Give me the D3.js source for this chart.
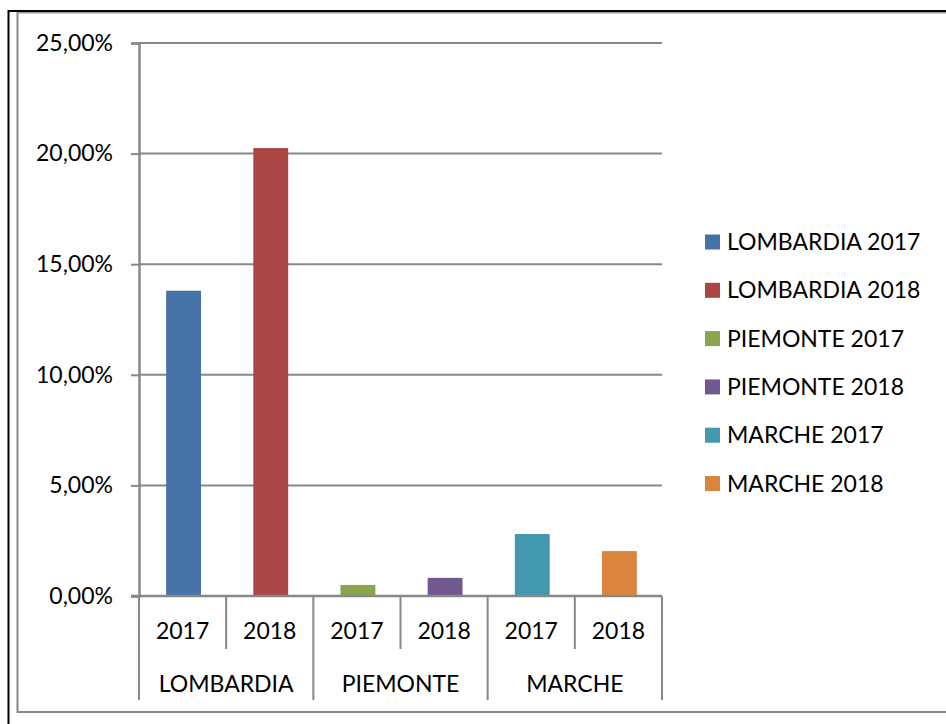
<!DOCTYPE html>
<html><head><meta charset="utf-8">
<script src="https://cdn.jsdelivr.net/npm/d3@7"></script>
<style>html,body{margin:0;padding:0;background:#fff;}svg{display:block;}text{font-family:Lato,"Open Sans",sans-serif;fill:#000;}</style>
</head><body>
<script>
const regions = ["LOMBARDIA", "PIEMONTE", "MARCHE"];
const years = ["2017", "2018"];
const seriesNames = ["LOMBARDIA 2017","LOMBARDIA 2018","PIEMONTE 2017","PIEMONTE 2018","MARCHE 2017","MARCHE 2018"];
const values = [13.8, 20.25, 0.5, 0.82, 2.8, 2.03];
const colors = ["#4572A7","#AA4643","#89A54E","#71588F","#4198AF","#DB843D"];
const yTicks = [0, 5, 10, 15, 20, 25];

(function () {
const W = 946, H = 724;
const FS = "23px";
const svg = d3.select("body").append("svg").attr("width", W).attr("height", H);

// frame
svg.append("line").attr("x1",8.5).attr("x2",8.5).attr("y1",10).attr("y2",H).attr("stroke","#000").attr("stroke-width",2);
svg.append("line").attr("x1",8).attr("x2",W).attr("y1",11).attr("y2",11).attr("stroke","#000").attr("stroke-width",2);
svg.append("line").attr("x1",17.5).attr("x2",17.5).attr("y1",12).attr("y2",713).attr("stroke","#888").attr("stroke-width",2);
svg.append("line").attr("x1",17).attr("x2",W).attr("y1",12.8).attr("y2",12.8).attr("stroke","#999").attr("stroke-width",1.5);
svg.append("line").attr("x1",17).attr("x2",W).attr("y1",712).attr("y2",712).attr("stroke","#888").attr("stroke-width",2);

const pLeft = 139, pRight = 662, pTop = 43, pBase = 596;
const y = d3.scaleLinear().domain([0, 25]).range([pBase, pTop]);
const keys = seriesNames.map((s, i) => i);
const x = d3.scaleBand().domain(keys).range([pLeft, pRight]).paddingInner(0).paddingOuter(0);

// gridlines
svg.append("g").selectAll("line").data(yTicks.filter(t => t > 0)).join("line")
  .attr("x1", pLeft).attr("x2", pRight)
  .attr("y1", d => y(d)).attr("y2", d => y(d))
  .attr("stroke", "#888").attr("stroke-width", 2);

// y axis
const yAxis = svg.append("g").attr("transform", `translate(${pLeft},0)`)
  .call(d3.axisLeft(y).tickValues(yTicks).tickSize(8).tickPadding(18)
    .tickFormat(d => d3.format(".2f")(d).replace(".", ",") + "%"));
yAxis.select(".domain").attr("stroke", "#888").attr("stroke-width", 2.5);
yAxis.selectAll(".tick line").attr("stroke", "#888").attr("stroke-width", 2);
yAxis.selectAll("text").style("font-size", FS).attr("font-family", null).attr("fill", "#000");

// bars
const bw = x.bandwidth() * 0.4;
svg.append("g").selectAll("rect").data(keys).join("rect")
  .attr("x", d => x(d) + x.bandwidth() / 2 - bw / 2 + 1)
  .attr("width", bw)
  .attr("y", d => y(values[d]))
  .attr("height", d => pBase - y(values[d]))
  .attr("fill", d => colors[d]);

// x axis baseline
svg.append("line").attr("x1", pLeft - 8).attr("x2", pRight).attr("y1", pBase).attr("y2", pBase)
  .attr("stroke", "#888").attr("stroke-width", 2.5);

// separators
const bounds = d3.range(keys.length + 1).map(i => i < keys.length ? x(i) : x(keys.length - 1) + x.bandwidth());
svg.append("g").selectAll("line").data(bounds).join("line")
  .attr("x1", d => d).attr("x2", d => d)
  .attr("y1", pBase)
  .attr("y2", (d, i) => i % 2 === 0 ? 700 : 649)
  .attr("stroke", "#888").attr("stroke-width", 2);

// year labels
svg.append("g").selectAll("text").data(keys).join("text")
  .attr("x", d => x(d) + x.bandwidth() / 2)
  .attr("y", 631).attr("dy", "0.35em").attr("text-anchor", "middle")
  .style("font-size", FS)
  .text(d => years[d % years.length]);

// region labels
svg.append("g").selectAll("text").data(regions).join("text")
  .attr("x", (d, i) => x(i * 2) + x.bandwidth())
  .attr("y", 684).attr("dy", "0.35em").attr("text-anchor", "middle")
  .style("font-size", FS)
  .text(d => d);

// legend
const lg = svg.append("g").selectAll("g").data(keys).join("g")
  .attr("transform", (d, i) => `translate(705,${242 + i * 48.3})`);
lg.append("rect").attr("x", 0).attr("y", -7.5).attr("width", 15).attr("height", 15).attr("fill", d => colors[d]);
lg.append("text").attr("x", 22).attr("y", 0).attr("dy", "0.35em").style("font-size", FS).text(d => seriesNames[d]);
})();
</script>
</body></html>
